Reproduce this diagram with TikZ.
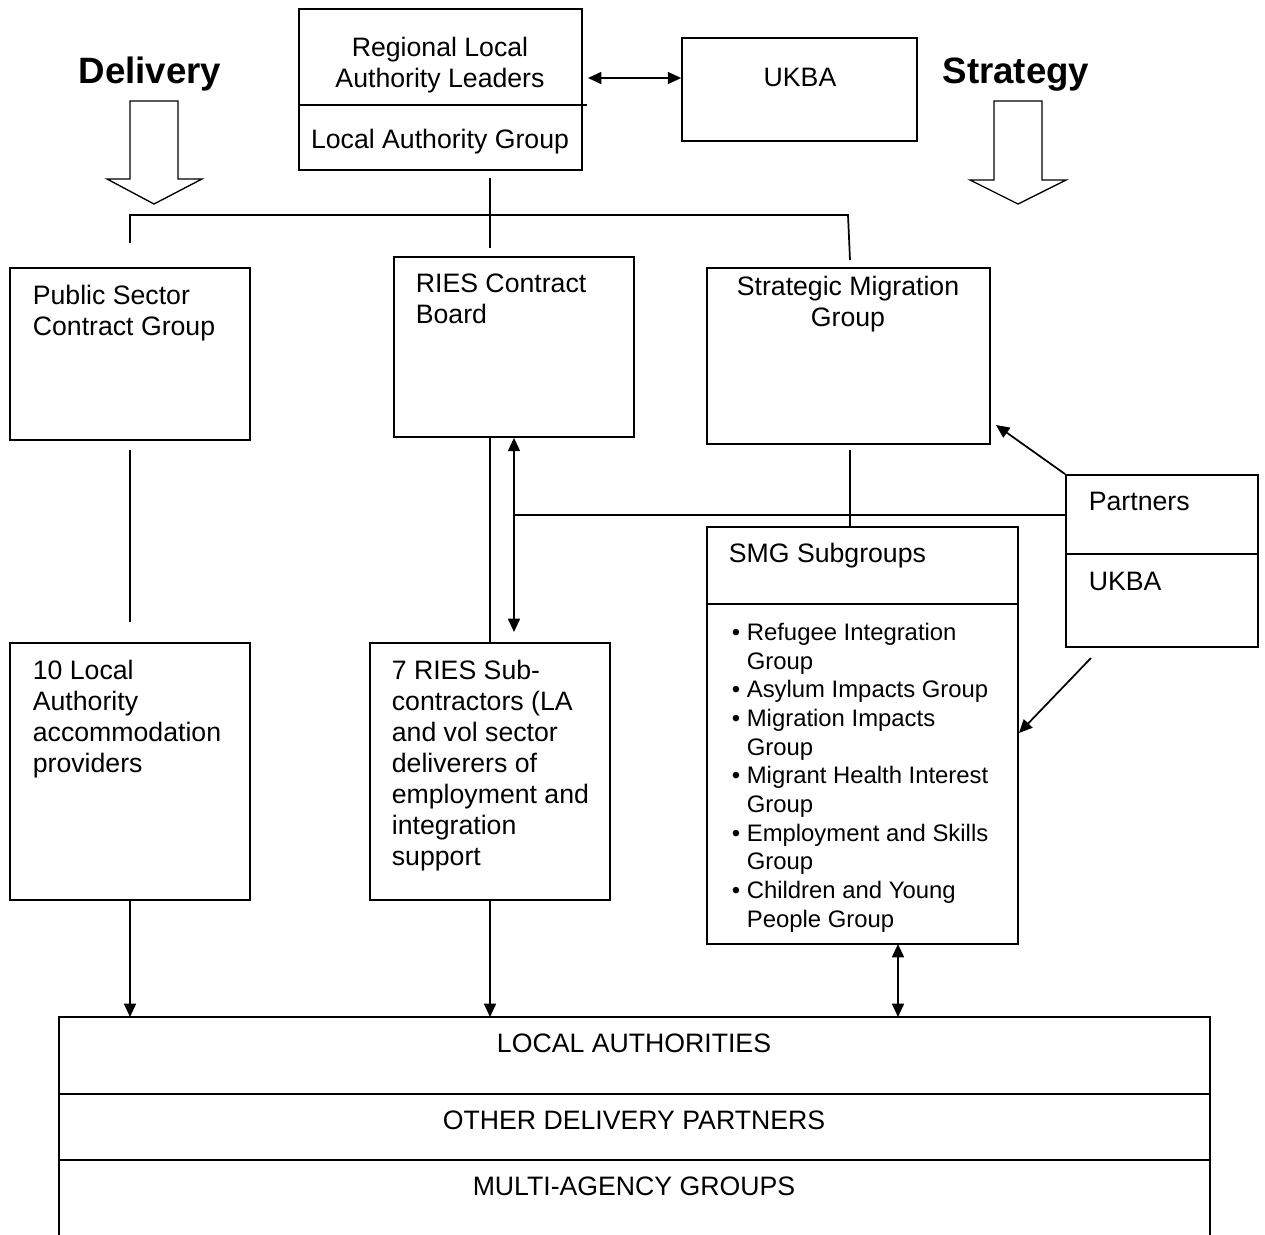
\documentclass[tikz,border=0pt]{standalone}
\usepackage{fontspec}
\setmainfont{Liberation Sans}
\usetikzlibrary{arrows.meta,fit}
\begin{document}
\begin{tikzpicture}[x=0.75pt,y=-0.75pt,line width=1.3pt,
  box/.style={draw,rectangle,inner sep=0pt,line width=1.3pt},
  txt/.style={inner sep=0pt,anchor=base west,align=left,font=\fontsize{20}{23.25}\selectfont},
  ctxt/.style={inner sep=0pt,anchor=base,align=center,font=\fontsize{20}{23.25}\selectfont},
  btxt/.style={inner sep=0pt,anchor=base west,align=left,font=\fontsize{17.9}{21.5}\selectfont},
  head/.style={inner sep=0pt,anchor=base,font=\fontsize{27.5}{30}\selectfont\bfseries},
  arr/.style={-{Triangle[length=10pt,width=9pt]}},
  darr/.style={{Triangle[length=10pt,width=9pt]}-{Triangle[length=10pt,width=9pt]}},
  blockarrow/.style={draw,fill=white,line width=1pt}]
\useasboundingbox (0,0) rectangle (1265,1235);

% headings
\node[head] (hdel) at (150,83) {Delivery};
\node[head] (hstr) at (1016,83) {Strategy};
\draw[blockarrow] (130,101) -- (178,101) -- (178,179) -- (202,179) -- (154,204) -- (107,179) -- (130,179) -- cycle;
\draw[blockarrow] (994,101) -- (1042,101) -- (1042,180) -- (1066,180) -- (1018,204) -- (970,180) -- (994,180) -- cycle;

% top box (anchor base = baseline of the last line)
\node[box,fit={(299,9) (582,170)}] (top) {};
\draw (299,105) -- (587,105);
\node[ctxt] (toptxt) at (440,87) {Regional Local\\Authority Leaders};
\node[ctxt] (lag) at (440,148) {Local Authority Group};

% UKBA top
\node[box,fit={(682,38) (917,141)}] (ukba) {};
\node[ctxt] (ukbatxt) at (800,86) {UKBA};

% second row
\node[box,fit={(10,268) (250,440)}] (psc) {};
\node[txt] (psctxt) at (32,335) {Public Sector\\Contract Group};
\node[box,fit={(394,257) (634,437)}] (rcb) {};
\node[txt] (rcbtxt) at (415,323) {RIES Contract\\Board};
\node[box,fit={(707,268) (990,444)}] (smg) {};
\node[ctxt] (smgtxt) at (848,326) {Strategic Migration\\Group};

% partners
\node[box,fit={(1066,475) (1258,647)}] (part) {};
\draw (1066,554) -- (1258,554);
\node[txt] (parttxt) at (1088,510) {Partners};
\node[txt] (partukba) at (1088,590) {UKBA};

% SMG subgroups
\node[box,fit={(707,527) (1018,944)}] (sub) {};
\draw (707,604) -- (1018,604);
\node[txt] (subtxt) at (728,562) {SMG Subgroups};
\node[btxt] (sublist) at (746,927) {\llap{•\hspace{5pt}}Refugee Integration\\Group\\\llap{•\hspace{5pt}}Asylum Impacts Group\\\llap{•\hspace{5pt}}Migration Impacts\\Group\\\llap{•\hspace{5pt}}Migrant Health Interest\\Group\\\llap{•\hspace{5pt}}Employment and Skills\\Group\\\llap{•\hspace{5pt}}Children and Young\\People Group};

% third row
\node[box,fit={(10,643) (250,900)}] (lap) {};
\node[txt] (laptxt) at (32,772) {10 Local\\Authority\\accommodation\\providers};
\node[box,fit={(370,643) (610,900)}] (rsub) {};
\node[txt] (rsubtxt) at (391,865) {7 RIES Sub-\\contractors (LA\\and vol sector\\deliverers of\\employment and\\integration\\support};

% bottom
\node[box,fit={(59,1017) (1210,1245)}] (bot) {};
\draw (59,1094) -- (1210,1094);
\draw (59,1160) -- (1210,1160);
\node[ctxt] (la) at (634,1052) {LOCAL AUTHORITIES};
\node[ctxt] (odp) at (634,1129) {OTHER DELIVERY PARTNERS};
\node[ctxt] (mag) at (634,1195) {MULTI-AGENCY GROUPS};

% connector coordinates
\coordinate (t1) at (490,178);
\coordinate (t2) at (490,248);
\coordinate (b1) at (130,243);
\coordinate (b2) at (130,215);
\coordinate (b3) at (848,215);
\coordinate (b4) at (850,260);
\coordinate (p1) at (130,450);
\coordinate (p2) at (130,622);
\coordinate (r1) at (490,437);
\coordinate (r2) at (514,632);
\coordinate (r3) at (514,515);
\coordinate (s1) at (850,450);
\coordinate (s2) at (850,527);
\coordinate (l1) at (130,900);
\coordinate (l2) at (130,1017);
\coordinate (q1) at (490,900);
\coordinate (q2) at (490,1017);
\coordinate (g1) at (898,944);
\coordinate (g2) at (898,1017);
\coordinate (a1) at (996,425);
\coordinate (a2) at (1091,658);
\coordinate (a3) at (1019,733);
\coordinate (u1) at (588,78);

% connectors
\draw (t1) -- (t2);
\draw (b1) -- (b2) -- (b3) -- (b4);
\draw (p1) -- (p2);
\draw (r1) -- (rsub.north);
\draw[darr] (rcb.south) -- (r2);
\draw (r3) -- (r3 -| part.west);
\draw (s1) -- (s2);
\draw[arr] (l1) -- (l2);
\draw[arr] (q1) -- (q2);
\draw[darr] (g1) -- (g2);
\draw[arr] (part.north west) -- (a1);
\draw[arr] (a2) -- (a3);
\draw[darr] (u1) -- (ukba.west |- u1);
\end{tikzpicture}
\end{document}
